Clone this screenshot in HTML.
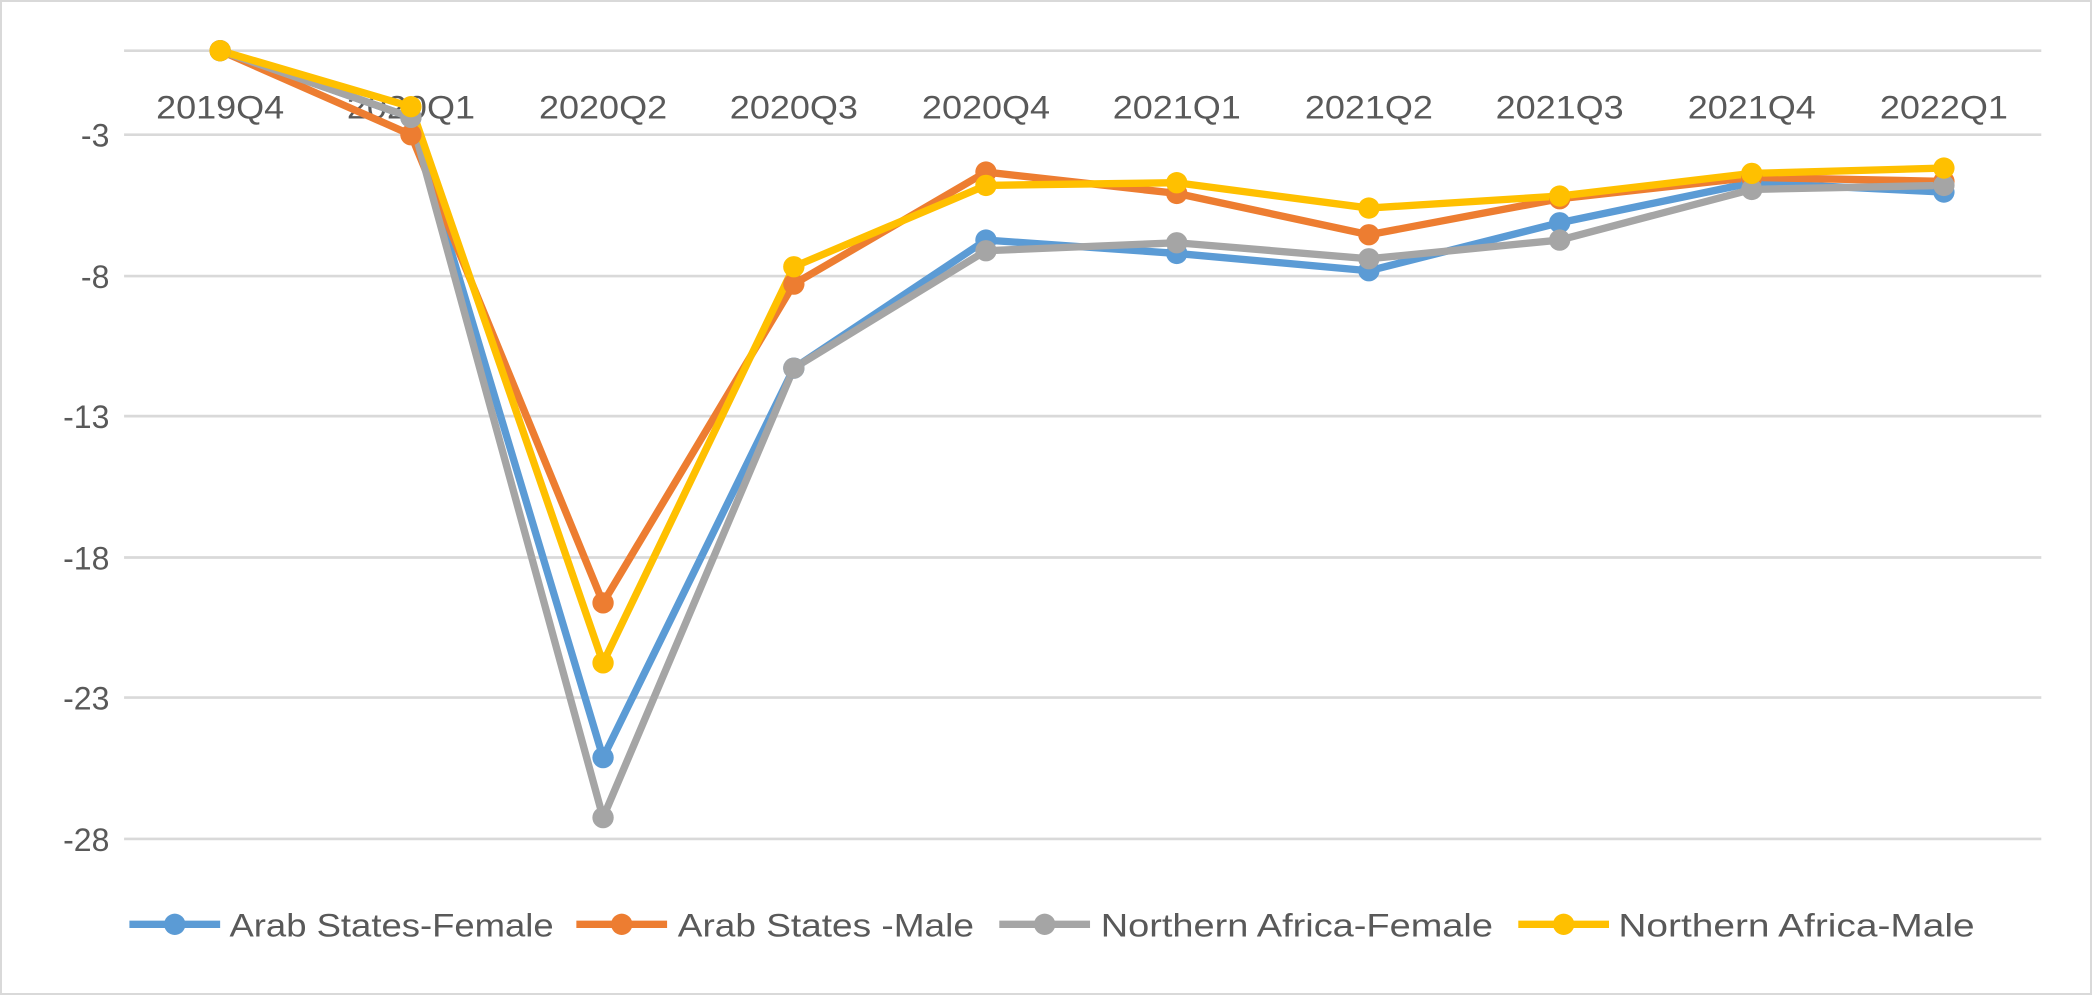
<!DOCTYPE html>
<html><head><style>
html,body{margin:0;padding:0;background:#fff;}
svg{display:block;}
text{font-family:"Liberation Sans",sans-serif;fill:#595959;}
</style></head><body>
<svg width="2092" height="995" viewBox="0 0 1568 746" preserveAspectRatio="none">
<rect x="0.5" y="0.5" width="1567" height="745" fill="#fff" stroke="#d9d9d9" stroke-width="2"/>
<g stroke="#d9d9d9" stroke-width="2">
<line x1="93" y1="38" x2="1530" y2="38"/>
<line x1="93" y1="101" x2="1530" y2="101"/>
<line x1="93" y1="207" x2="1530" y2="207"/>
<line x1="93" y1="312" x2="1530" y2="312"/>
<line x1="93" y1="418" x2="1530" y2="418"/>
<line x1="93" y1="523" x2="1530" y2="523"/>
<line x1="93" y1="629" x2="1530" y2="629"/>
</g>
<g font-size="24" text-anchor="end">
<text x="82" y="110">-3</text>
<text x="82" y="216">-8</text>
<text x="82" y="321">-13</text>
<text x="82" y="427">-18</text>
<text x="82" y="532">-23</text>
<text x="82" y="638">-28</text>
</g>
<g font-size="24" text-anchor="middle">
<text x="165" y="89" textLength="96" lengthAdjust="spacingAndGlyphs">2019Q4</text>
<text x="308" y="89" textLength="96" lengthAdjust="spacingAndGlyphs">2020Q1</text>
<text x="452" y="89" textLength="96" lengthAdjust="spacingAndGlyphs">2020Q2</text>
<text x="595" y="89" textLength="96" lengthAdjust="spacingAndGlyphs">2020Q3</text>
<text x="739" y="89" textLength="96" lengthAdjust="spacingAndGlyphs">2020Q4</text>
<text x="882" y="89" textLength="96" lengthAdjust="spacingAndGlyphs">2021Q1</text>
<text x="1026" y="89" textLength="96" lengthAdjust="spacingAndGlyphs">2021Q2</text>
<text x="1169" y="89" textLength="96" lengthAdjust="spacingAndGlyphs">2021Q3</text>
<text x="1313" y="89" textLength="96" lengthAdjust="spacingAndGlyphs">2021Q4</text>
<text x="1457" y="89" textLength="96" lengthAdjust="spacingAndGlyphs">2022Q1</text>
</g>
<g fill="none" stroke-width="5.5" stroke-linejoin="round">
<polyline stroke="#5b9bd5" points="165,38 308,88 452,568 595,276 739,180 882,190 1026,203 1169,167 1313,137 1457,144"/>
<polyline stroke="#ed7d31" points="165,38 308,101 452,452 595,213 739,129 882,145 1026,176 1169,149 1313,133 1457,136"/>
<polyline stroke="#a5a5a5" points="165,38 308,88 452,613 595,276 739,188 882,182 1026,194 1169,180 1313,142 1457,139"/>
<polyline stroke="#ffc000" points="165,38 308,80 452,497 595,200 739,139 882,137 1026,156 1169,147 1313,130 1457,126"/>
</g>
<g fill="#5b9bd5">
<circle cx="165" cy="38" r="8"/><circle cx="308" cy="88" r="8"/><circle cx="452" cy="568" r="8"/><circle cx="595" cy="276" r="8"/><circle cx="739" cy="180" r="8"/><circle cx="882" cy="190" r="8"/><circle cx="1026" cy="203" r="8"/><circle cx="1169" cy="167" r="8"/><circle cx="1313" cy="137" r="8"/><circle cx="1457" cy="144" r="8"/>
</g>
<g fill="#ed7d31">
<circle cx="165" cy="38" r="8"/><circle cx="308" cy="101" r="8"/><circle cx="452" cy="452" r="8"/><circle cx="595" cy="213" r="8"/><circle cx="739" cy="129" r="8"/><circle cx="882" cy="145" r="8"/><circle cx="1026" cy="176" r="8"/><circle cx="1169" cy="149" r="8"/><circle cx="1313" cy="133" r="8"/><circle cx="1457" cy="136" r="8"/>
</g>
<g fill="#a5a5a5">
<circle cx="165" cy="38" r="8"/><circle cx="308" cy="88" r="8"/><circle cx="452" cy="613" r="8"/><circle cx="595" cy="276" r="8"/><circle cx="739" cy="188" r="8"/><circle cx="882" cy="182" r="8"/><circle cx="1026" cy="194" r="8"/><circle cx="1169" cy="180" r="8"/><circle cx="1313" cy="142" r="8"/><circle cx="1457" cy="139" r="8"/>
</g>
<g fill="#ffc000">
<circle cx="165" cy="38" r="8"/><circle cx="308" cy="80" r="8"/><circle cx="452" cy="497" r="8"/><circle cx="595" cy="200" r="8"/><circle cx="739" cy="139" r="8"/><circle cx="882" cy="137" r="8"/><circle cx="1026" cy="156" r="8"/><circle cx="1169" cy="147" r="8"/><circle cx="1313" cy="130" r="8"/><circle cx="1457" cy="126" r="8"/>
</g>
<g stroke-width="5.5">
<line x1="97" y1="693" x2="165" y2="693" stroke="#5b9bd5"/><circle cx="131" cy="693" r="8" fill="#5b9bd5"/>
<line x1="432" y1="693" x2="500" y2="693" stroke="#ed7d31"/><circle cx="466" cy="693" r="8" fill="#ed7d31"/>
<line x1="749" y1="693" x2="817" y2="693" stroke="#a5a5a5"/><circle cx="783" cy="693" r="8" fill="#a5a5a5"/>
<line x1="1138" y1="693" x2="1206" y2="693" stroke="#ffc000"/><circle cx="1172" cy="693" r="8" fill="#ffc000"/>
</g>
<g font-size="24">
<text x="172" y="702" textLength="243" lengthAdjust="spacingAndGlyphs">Arab States-Female</text>
<text x="508" y="702" textLength="222" lengthAdjust="spacingAndGlyphs">Arab States -Male</text>
<text x="825" y="702" textLength="294" lengthAdjust="spacingAndGlyphs">Northern Africa-Female</text>
<text x="1213" y="702" textLength="267" lengthAdjust="spacingAndGlyphs">Northern Africa-Male</text>
</g>
</svg>
</body></html>
